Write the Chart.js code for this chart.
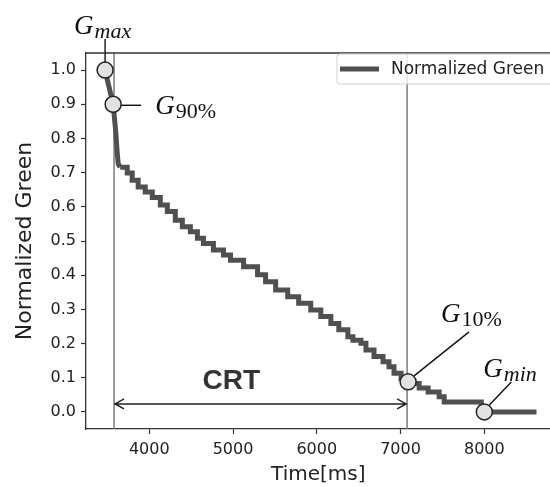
<!DOCTYPE html>
<html>
<head>
<meta charset="utf-8">
<script src="https://cdn.jsdelivr.net/npm/chart.js@4.4.1/dist/chart.umd.min.js"></script>
<style>
  html, body { margin: 0; padding: 0; background: #fff; overflow: hidden; }
  #wrap { width: 560px; height: 487px; position: relative; }
  canvas { position: absolute; left: 0; top: 0; width: 560px; height: 487px; }
</style>
</head>
<body>
<div id="wrap"><canvas id="crtChart" width="560" height="487"></canvas></div>
<script>
// steep initial drop (drawn as a plain line)
const dropTime = [3473, 3520, 3569, 3600, 3617, 3630, 3653];
const dropValue = [1.00, 0.95, 0.90, 0.82, 0.76, 0.725, 0.716];

// normalized green staircase after the drop (step-post levels)
const timeMs = [3653,
  3737, 3796, 3868, 3952, 4036, 4132, 4216, 4311, 4395, 4491,
  4575, 4647, 4766, 4886, 4970, 5126, 5293, 5389, 5509, 5653,
  5784, 5928, 6048, 6168, 6263, 6371, 6431, 6527, 6587, 6683,
  6791, 6862, 6922, 7006, 7126, 7222, 7329, 7461, 7521, 7964, 8623];
const green = [0.716,
  0.699, 0.678, 0.658, 0.643, 0.627, 0.605, 0.586, 0.561, 0.542, 0.527,
  0.508, 0.493, 0.474, 0.459, 0.444, 0.425, 0.401, 0.381, 0.357, 0.337,
  0.318, 0.298, 0.279, 0.259, 0.240, 0.220, 0.210, 0.201, 0.181, 0.162,
  0.147, 0.132, 0.113, 0.098, 0.083, 0.070, 0.058, 0.044, 0.029, 0.000, 0.000];

const xTicks = [4000, 5000, 6000, 7000, 8000];
const yTicks = [0, 0.1, 0.2, 0.3, 0.4, 0.5, 0.6, 0.7, 0.8, 0.9, 1.0];

// marked points: Gmax, G90%, G10%, Gmin
const markerTime = [3473, 3569, 7090, 8000];
const markerValue = [1.0, 0.9, 0.088, 0.0];
const markerSub = ['max', '90%', '10%', 'min'];

const crtStart = 3580;
const crtEnd = 7078;
const crtLabel = 'CRT';
const seriesName = 'Normalized Green';

const lineColor = '#505050';
const axisColor = '#333';

// pixel offsets of each label from its marker: [gx, gBaseline, leader x0, y0, x1, y1]
const labelLayout = [
  [-31, -36, 0, -8, 0, -31],
  [42, 10, 8, 1, 28, 1],
  [33, -60, 6, -6, 61, -50],
  [-1, -35, 5, -7, 27, -30]
];

function drawG(ctx, x, base, sub) {
  ctx.font = 'italic 27px "Liberation Serif"';
  ctx.textAlign = 'left';
  ctx.textBaseline = 'alphabetic';
  ctx.fillText('G', x, base);
  const w = ctx.measureText('G').width;
  const italic = /[a-z]/.test(sub);
  ctx.font = (italic ? 'italic ' : '') + '22px "Liberation Serif"';
  ctx.fillText(sub, x + w + 1, base + 4);
}

const annotate = {
  id: 'annotate',
  beforeDatasetsDraw(chart) {
    const {ctx, chartArea: a, scales: {x}} = chart;
    ctx.save();
    ctx.strokeStyle = '#7a7a7a';
    ctx.lineWidth = 1.5;
    [crtStart, crtEnd].forEach(t => {
      const px = x.getPixelForValue(t);
      ctx.beginPath();
      ctx.moveTo(px, a.top);
      ctx.lineTo(px, a.bottom);
      ctx.stroke();
    });
    // top spine (right spine falls outside the cropped picture)
    ctx.strokeStyle = axisColor;
    ctx.lineWidth = 1.3;
    ctx.beginPath();
    ctx.moveTo(a.left, a.top);
    ctx.lineTo(chart.width, a.top);
    ctx.stroke();
    ctx.restore();
  },
  afterDatasetsDraw(chart) {
    const {ctx, chartArea: a, scales: {x, y}} = chart;
    ctx.save();

    // CRT double arrow
    const x0 = x.getPixelForValue(crtStart);
    const x1 = x.getPixelForValue(crtEnd);
    const ay = y.getPixelForValue(0) - 8;
    ctx.strokeStyle = '#222';
    ctx.lineWidth = 1.5;
    ctx.beginPath();
    ctx.moveTo(x0, ay); ctx.lineTo(x1, ay);
    ctx.moveTo(x0 + 10, ay - 5); ctx.lineTo(x0 + 1, ay); ctx.lineTo(x0 + 10, ay + 5);
    ctx.moveTo(x1 - 10, ay - 5); ctx.lineTo(x1 - 1, ay); ctx.lineTo(x1 - 10, ay + 5);
    ctx.stroke();
    ctx.fillStyle = '#333';
    ctx.font = 'bold 28px "Liberation Sans"';
    ctx.textAlign = 'center';
    ctx.textBaseline = 'middle';
    ctx.fillText(crtLabel, x0 + (x1 - x0) * 0.4, ay - 23);

    // marker labels and leaders
    ctx.fillStyle = '#111';
    ctx.strokeStyle = '#111';
    ctx.lineWidth = 1.4;
    markerTime.forEach((t, i) => {
      const cx = x.getPixelForValue(t);
      const cy = y.getPixelForValue(markerValue[i]);
      const L = labelLayout[i];
      ctx.beginPath();
      ctx.moveTo(cx + L[2], cy + L[3]);
      ctx.lineTo(cx + L[4], cy + L[5]);
      ctx.stroke();
      drawG(ctx, cx + L[0], cy + L[1], markerSub[i]);
    });

    // legend box
    const lx = 337, ly = a.top + 1, lh = 30;
    ctx.beginPath();
    ctx.roundRect(lx, ly, chart.width - lx + 10, lh, 3);
    ctx.fillStyle = 'rgba(255,255,255,0.8)';
    ctx.fill();
    ctx.strokeStyle = '#d0d0d0';
    ctx.lineWidth = 1;
    ctx.stroke();
    ctx.strokeStyle = lineColor;
    ctx.lineWidth = 5;
    ctx.beginPath();
    ctx.moveTo(lx + 3, ly + lh / 2);
    ctx.lineTo(lx + 42, ly + lh / 2);
    ctx.stroke();
    ctx.fillStyle = '#222';
    ctx.font = '17px "DejaVu Sans"';
    ctx.textAlign = 'left';
    ctx.textBaseline = 'middle';
    ctx.fillText(seriesName, lx + 54, ly + lh / 2 + 1);

    ctx.restore();
  }
};

const dropPoints = dropTime.map((t, i) => ({x: t, y: dropValue[i]}));
const points = timeMs.map((t, i) => ({x: t, y: green[i]}));
const markers = markerTime.map((t, i) => ({x: t, y: markerValue[i]}));

new Chart(document.getElementById('crtChart'), {
  type: 'line',
  data: {
    datasets: [
      {
        label: seriesName,
        data: dropPoints,
        borderColor: lineColor,
        borderWidth: 5,
        borderJoinStyle: 'round',
        pointRadius: 0,
        fill: false,
        order: 3
      },
      {
        label: seriesName,
        data: points,
        borderColor: lineColor,
        borderWidth: 5,
        stepped: true,
        pointRadius: 0,
        fill: false,
        order: 2
      },
      {
        label: 'markers',
        data: markers,
        showLine: false,
        pointRadius: 8,
        pointBackgroundColor: '#e2e2e2',
        pointBorderColor: '#222',
        pointBorderWidth: 1.5,
        order: 1
      }
    ]
  },
  options: {
    responsive: false,
    animation: false,
    layout: { padding: { top: 53, right: 2, left: 0, bottom: 0 } },
    plugins: {
      legend: { display: false },
      tooltip: { enabled: false }
    },
    scales: {
      x: {
        type: 'linear',
        min: 3245,
        max: 8790,
        afterFit: s => { s.height = 58; },
        afterBuildTicks: s => { s.ticks = xTicks.map(v => ({value: v})); },
        grid: { drawOnChartArea: false, drawTicks: true, tickLength: 5, color: axisColor, tickWidth: 1.2 },
        border: { display: true, color: axisColor, width: 1.3 },
        ticks: {
          color: '#222',
          font: { family: 'DejaVu Sans', size: 16 },
          padding: 6,
          maxRotation: 0,
          callback: v => String(v)
        },
        title: {
          display: true,
          text: 'Time[ms]',
          color: '#222',
          font: { family: 'DejaVu Sans', size: 20 },
          padding: 0
        }
      },
      y: {
        min: -0.05,
        max: 1.05,
        afterFit: s => { s.width = 86; },
        afterBuildTicks: s => { s.ticks = yTicks.map(v => ({value: v})); },
        grid: { drawOnChartArea: false, drawTicks: true, tickLength: 5, color: axisColor, tickWidth: 1.2 },
        border: { display: true, color: axisColor, width: 1.3 },
        ticks: {
          color: '#222',
          font: { family: 'DejaVu Sans', size: 16 },
          padding: 5,
          callback: v => v.toFixed(1)
        },
        title: {
          display: true,
          text: seriesName,
          color: '#222',
          font: { family: 'DejaVu Sans', size: 22 },
          padding: { top: 12, bottom: 0 }
        }
      }
    }
  },
  plugins: [annotate]
});
</script>
</body>
</html>
